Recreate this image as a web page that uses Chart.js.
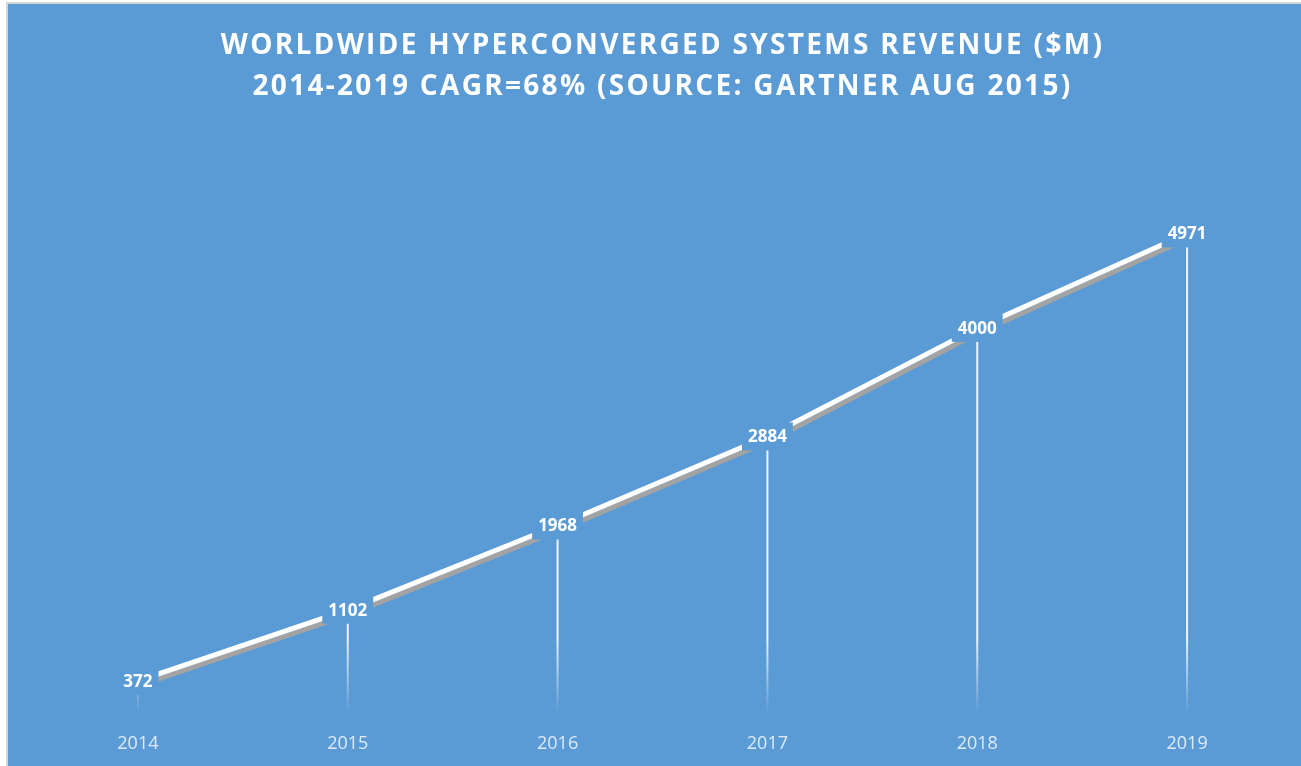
<!DOCTYPE html>
<html>
<head>
<meta charset="utf-8">
<script src="https://cdn.jsdelivr.net/npm/chart.js@4.4.1/dist/chart.umd.min.js"></script>
<style>
    body { margin: 0; background: #fff; overflow: hidden; }
    #frame {
        position: absolute; left: 6px; top: 2px;
        width: 1295px; height: 764px;
        border-top: 2px solid #d4d4d4; border-left: 2px solid #d4d4d4;
        background: #5b9bd5;
    }
    #frame canvas { display: block; }
</style>
</head>
<body>
<div id="frame"><canvas id="revenue-chart" width="1293" height="762"></canvas></div>
<script>
// Worldwide hyperconverged systems revenue ($M)
const years = ['2014', '2015', '2016', '2017', '2018', '2019'];
const revenue = [372, 1102, 1968, 2884, 4000, 4971];
const titleLines = [
    'WORLDWIDE HYPERCONVERGED SYSTEMS REVENUE ($M)',
    '2014-2019 CAGR=68% (SOURCE: GARTNER AUG 2015)',
];

const BG = '#5b9bd5';

// Faded vertical drop lines from each point to the axis
const dropLines = {
    id: 'dropLines',
    beforeDatasetsDraw(chart) {
        const { ctx, chartArea } = chart;
        const meta = chart.getDatasetMeta(0);
        const bottom = chartArea.bottom - 4;
        const grad = ctx.createLinearGradient(0, chartArea.bottom - 80, 0, bottom);
        grad.addColorStop(0, 'rgba(255,255,255,0.9)');
        grad.addColorStop(1, 'rgba(255,255,255,0)');
        ctx.save();
        ctx.strokeStyle = grad;
        ctx.lineWidth = 2;
        for (const pt of meta.data) {
            ctx.beginPath();
            ctx.moveTo(pt.x, pt.y);
            ctx.lineTo(pt.x, bottom);
            ctx.stroke();
        }
        ctx.restore();
    },
};

// Grey drop shadow under the white line
const lineShadow = {
    id: 'lineShadow',
    beforeDatasetDraw(chart) {
        const ctx = chart.ctx;
        ctx.save();
        ctx.shadowColor = '#a3a3a3';
        ctx.shadowOffsetX = 3;
        ctx.shadowOffsetY = 4;
        ctx.shadowBlur = 0;
    },
    afterDatasetDraw(chart) {
        chart.ctx.restore();
    },
};

// Value labels on a background-coloured box, centred on each point
const valueLabels = {
    id: 'valueLabels',
    afterDatasetsDraw(chart) {
        const { ctx } = chart;
        const meta = chart.getDatasetMeta(0);
        ctx.save();
        ctx.font = 'bold 17px "Open Sans"';
        ctx.textAlign = 'center';
        ctx.textBaseline = 'middle';
        meta.data.forEach((pt, i) => {
            const txt = String(revenue[i]);
            const w = ctx.measureText(txt).width + 12;
            ctx.fillStyle = BG;
            ctx.fillRect(pt.x - w / 2, pt.y - 14, w, 28);
            ctx.fillStyle = '#ffffff';
            ctx.fillText(txt, pt.x, pt.y + 1);
        });
        ctx.restore();
    },
};

// Letter spacing for the title block only
const titleSpacing = {
    id: 'titleSpacing',
    beforeDraw(chart) {
        const tb = chart.titleBlock;
        if (!tb || tb._spaced) return;
        const orig = tb.draw.bind(tb);
        tb.draw = (area) => {
            chart.ctx.letterSpacing = '2.3px';
            orig(area);
            chart.ctx.letterSpacing = '0px';
        };
        tb._spaced = true;
    },
};

new Chart(document.getElementById('revenue-chart'), {
    type: 'line',
    data: {
        labels: years,
        datasets: [{
            data: revenue,
            borderColor: '#ffffff',
            borderWidth: 5,
            pointRadius: 0,
            tension: 0,
        }],
    },
    options: {
        responsive: false,
        animation: false,
        layout: { padding: { left: 25, right: 9, top: 21, bottom: 0 } },
        plugins: {
            legend: { display: false },
            tooltip: { enabled: false },
            title: {
                display: true,
                text: titleLines,
                color: '#ffffff',
                font: { family: '"Open Sans"', size: 28, weight: 'bold', lineHeight: 1.47 },
                padding: { top: 0, bottom: 26 },
            },
        },
        scales: {
            x: {
                offset: true,
                grid: { display: false, drawTicks: false },
                border: { display: false },
                ticks: {
                    color: 'rgba(255,255,255,0.8)',
                    font: { family: '"Open Sans"', size: 18 },
                    padding: 16,
                },
                afterFit(scale) { scale.height = 49; },
            },
            y: {
                display: false,
                min: 0,
                max: 6000,
                afterFit(scale) { scale.width = 0; },
            },
        },
    },
    plugins: [titleSpacing, dropLines, lineShadow, valueLabels],
});
</script>
</body>
</html>
